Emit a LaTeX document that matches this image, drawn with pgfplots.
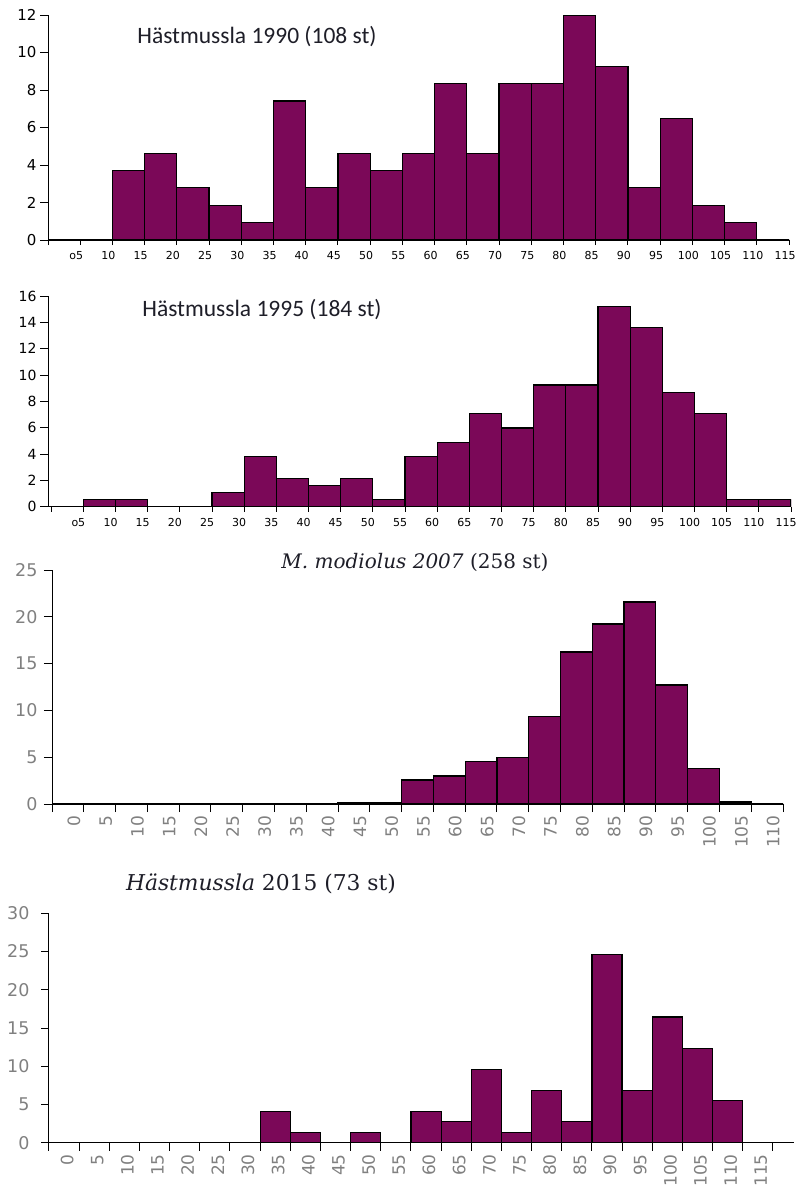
\documentclass[border=0pt]{standalone}
\usepackage{fontspec}
\usepackage{pgfplots}
\pgfplotsset{compat=1.18}
\setmainfont{Carlito}
\newfontfamily\dv{DejaVu Sans}
\newfontfamily\dvs{DejaVu Serif}
\newfontfamily\carl{Carlito}
\definecolor{barc}{RGB}{123,8,88}
\definecolor{tgray}{RGB}{128,128,128}
\definecolor{ttl}{RGB}{30,30,40}
\pgfplotsset{
  myaxis/.style={
    scale only axis, anchor=south west,
    axis x line*=bottom, axis y line*=left,
    axis line style={line width=1pt, black},
    tick style={line width=1pt, black},
    tick align=outside, major tick length=8pt,
    ymin=0,
    /pgf/number format/assume math mode=true,
  },
  hbar/.style={ybar interval, fill=barc, draw=black, line width=1.2pt},
}
\begin{document}
\begin{tikzpicture}
\useasboundingbox (0pt,0pt) rectangle (796pt,-1189pt);

% Panel 1
\begin{axis}[myaxis, at={(48pt,-240pt)}, width=741pt, height=225pt,
  xmin=0, xmax=115, ymax=12, ytick={0,2,...,12},
  xtick={0,5,...,115},
  xticklabels={{},o5,10,15,20,25,30,35,40,45,50,55,60,65,70,75,80,85,90,95,100,105,110,115},
  xtick style={/pgfplots/major tick length=5pt},
  xticklabel style={font=\dv\fontsize{11}{12}\selectfont, text=black, xshift=-4pt},
  yticklabel style={font=\dv\fontsize{15}{16}\selectfont, text=black}]
\addplot[hbar] coordinates {(0,0)(5,0)(10,3.70)(15,4.63)(20,2.78)(25,1.85)(30,0.93)(35,7.41)(40,2.78)(45,4.63)(50,3.70)(55,4.63)(60,8.33)(65,4.63)(70,8.33)(75,8.33)(80,12.0)(85,9.26)(90,2.78)(95,6.48)(100,1.85)(105,0.93)(110,0)(115,0)};
\end{axis}
\node[anchor=base, font=\carl\fontsize{23.5}{25}\selectfont, text=ttl] at (257pt,-43pt) {Hästmussla 1990 (108 st)};

% Panel 2
\begin{axis}[myaxis, at={(48pt,-506.7pt)}, width=743pt, height=210.7pt,
  xmin=-0.5, xmax=115, ymax=16, ytick={0,2,...,16},
  xtick={0,5,...,115},
  xticklabels={{},o5,10,15,20,25,30,35,40,45,50,55,60,65,70,75,80,85,90,95,100,105,110,115},
  xtick style={/pgfplots/major tick length=5pt},
  xticklabel style={font=\dv\fontsize{11}{12}\selectfont, text=black, xshift=-5pt},
  yticklabel style={font=\dv\fontsize{14}{15}\selectfont, text=black}]
\addplot[hbar] coordinates {(0,0)(5,0.54)(10,0.54)(15,0)(20,0)(25,1.09)(30,3.80)(35,2.17)(40,1.63)(45,2.17)(50,0.54)(55,3.80)(60,4.89)(65,7.07)(70,5.98)(75,9.24)(80,9.24)(85,15.22)(90,13.59)(95,8.70)(100,7.07)(105,0.54)(110,0.54)(115,0)};
\end{axis}
\node[anchor=base, font=\carl\fontsize{23.5}{25}\selectfont, text=ttl] at (262pt,-316.7pt) {Hästmussla 1995 (184 st)};

% Panel 3
\begin{axis}[myaxis, at={(52pt,-804pt)}, width=731pt, height=234pt,
  xmin=0, xmax=115, ymax=25, ytick={0,5,...,25},
  xtick={0,5,...,115}, x tick label as interval,
  xticklabel={\pgfmathprintnumber{\tick}},
  xticklabel style={rotate=90, anchor=east, yshift=-6pt, font=\dv\fontsize{17}{18}\selectfont, text=tgray},
  yticklabel style={font=\dv\fontsize{17.5}{18}\selectfont, text=tgray, xshift=-3pt}]
\addplot[hbar] coordinates {(0,0)(5,0)(10,0)(15,0)(20,0)(25,0)(30,0)(35,0)(40,0)(45,0.2)(50,0.2)(55,2.56)(60,2.99)(65,4.56)(70,4.99)(75,9.33)(80,16.24)(85,19.23)(90,21.58)(95,12.71)(100,3.77)(105,0.21)(110,0)(115,0)};
\end{axis}
\node[anchor=base, font=\dvs\fontsize{20}{22}\selectfont, text=ttl] at (415pt,-568pt) {\textit{M. modiolus 2007} (258 st)};

% Panel 4
\begin{axis}[myaxis, at={(49pt,-1142.7pt)}, width=745pt, height=229.4pt,
  xmin=0, xmax=123.5, ymax=30, ytick={0,5,...,30},
  xtick={0,5,...,120}, x tick label as interval,
  xticklabel={\pgfmathprintnumber{\tick}},
  xticklabel style={rotate=90, anchor=east, yshift=-3pt, font=\dv\fontsize{17}{18}\selectfont, text=tgray},
  yticklabel style={font=\dv\fontsize{17.5}{18}\selectfont, text=tgray, xshift=-8pt}]
\addplot[hbar] coordinates {(0,0)(5,0)(10,0)(15,0)(20,0)(25,0)(30,0)(35,4.11)(40,1.37)(45,0)(50,1.37)(55,0)(60,4.11)(65,2.74)(70,9.59)(75,1.37)(80,6.85)(85,2.74)(90,24.66)(95,6.85)(100,16.44)(105,12.33)(110,5.48)(115,0)(120,0)};
\end{axis}
\node[anchor=base, font=\dvs\fontsize{21.8}{24}\selectfont, text=ttl] at (261pt,-890pt) {\textit{Hästmussla} 2015 (73 st)};
\end{tikzpicture}
\end{document}
